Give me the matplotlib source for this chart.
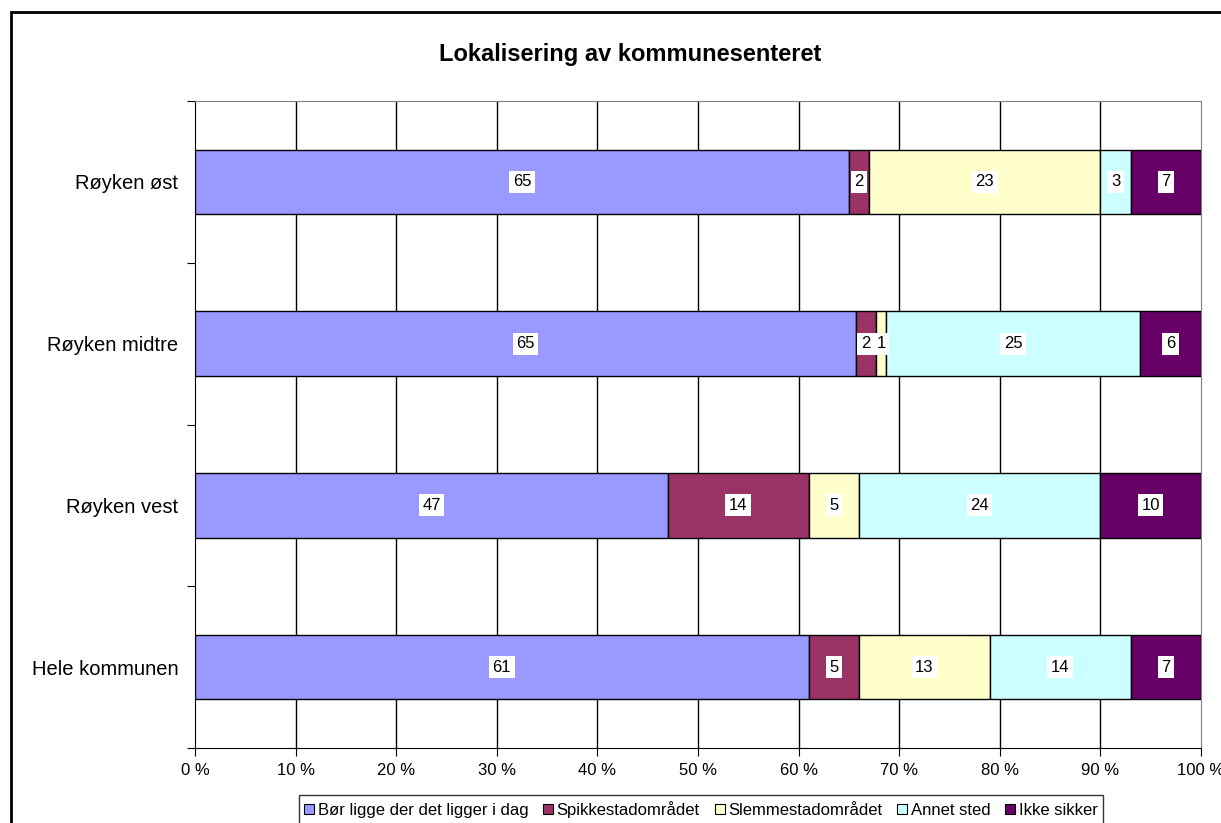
#!/usr/bin/env python3
"""Lokalisering av kommunesenteret - 100% stacked horizontal bars."""
import numpy as np
import matplotlib
matplotlib.use('Agg')
import matplotlib.pyplot as plt
import matplotlib.patches as mpatches

plt.rcParams['font.family'] = ['Liberation Sans', 'DejaVu Sans']

# ─── Data (bottom to top) ────────────────────────────────────────────────────
groups = ['Hele kommunen', 'Røyken vest', 'Røyken midtre', 'Røyken øst']
series = ['Bør ligge der det ligger i dag', 'Spikkestadområdet',
          'Slemmestadområdet', 'Annet sted', 'Ikke sikker']
bor_ligge = [61, 47, 65, 65]
spikkestad = [5, 14, 2, 2]
slemmestad = [13, 5, 1, 23]
annet = [14, 24, 25, 3]
ikke_sikker = [7, 10, 6, 7]
xticks = [0, 10, 20, 30, 40, 50, 60, 70, 80, 90, 100]

COLORS = ['#9999FF', '#993366', '#FFFFCC', '#CCFFFF', '#660066']

values = np.array([bor_ligge, spikkestad, slemmestad, annet, ikke_sikker], dtype=float)
pct = values / values.sum(axis=0) * 100

fig = plt.figure(figsize=(12.21, 8.23), dpi=100)
ax = fig.add_axes([195/1221, 1-748/823, 1006/1221, 647/823])

y = np.arange(len(groups))
left = np.zeros(len(groups))
handles = []
for i, name in enumerate(series):
    ax.barh(y, pct[i], 0.4, left=left, color=COLORS[i],
            edgecolor='black', linewidth=1, zorder=3)
    for j in range(len(groups)):
        ax.text(left[j] + pct[i][j]/2, y[j], f'{int(values[i][j])}',
                ha='center', va='center', fontsize=12, zorder=4,
                bbox=dict(facecolor='white', edgecolor='none', pad=2.5))
    left += pct[i]
    handles.append(mpatches.Patch(facecolor=COLORS[i], edgecolor='black',
                                  linewidth=0.8, label=name))

ax.set_xlim(0, 100)
ax.set_ylim(-0.5, len(groups) - 0.5)
ax.set_xticks(xticks)
ax.set_xticklabels([f'{t} %' for t in xticks], fontsize=12)
ax.set_yticks(np.arange(-0.5, len(groups)), minor=False)
ax.set_yticklabels([])
ax.set_yticks(y, minor=True)
ax.set_yticklabels(groups, minor=True, fontsize=14.5)
ax.tick_params(axis='y', which='minor', length=0, pad=12)
ax.tick_params(axis='y', which='major', direction='out', length=6)
ax.tick_params(axis='x', direction='out', length=6, pad=5)

for t in xticks[1:-1]:
    ax.axvline(t, color='black', lw=1, zorder=1)

ax.spines['top'].set_color('#808080')
ax.spines['right'].set_color('#808080')
ax.spines['left'].set_color('black')
ax.spines['bottom'].set_color('black')

fig.text(630/1221, 1 - 55/823, 'Lokalisering av kommunesenteret',
         ha='center', va='center', fontsize=17, fontweight='bold')

leg = fig.legend(handles=handles, loc='upper center', ncol=5,
                 bbox_to_anchor=(701/1221, 1 - 795/823), fontsize=12,
                 frameon=True, fancybox=False, edgecolor='black',
                 handlelength=0.6, handleheight=0.6, handletextpad=0.2,
                 columnspacing=0.9, borderpad=0.35, borderaxespad=0)
leg.get_frame().set_linewidth(1)

# outer chart border
fig.patches.append(mpatches.Rectangle((11/1221, -0.05), 1.2, 1 - 12/823 + 0.05,
                                      transform=fig.transFigure, fill=False,
                                      edgecolor='black', linewidth=2))

fig.savefig('out.png', dpi=100)
